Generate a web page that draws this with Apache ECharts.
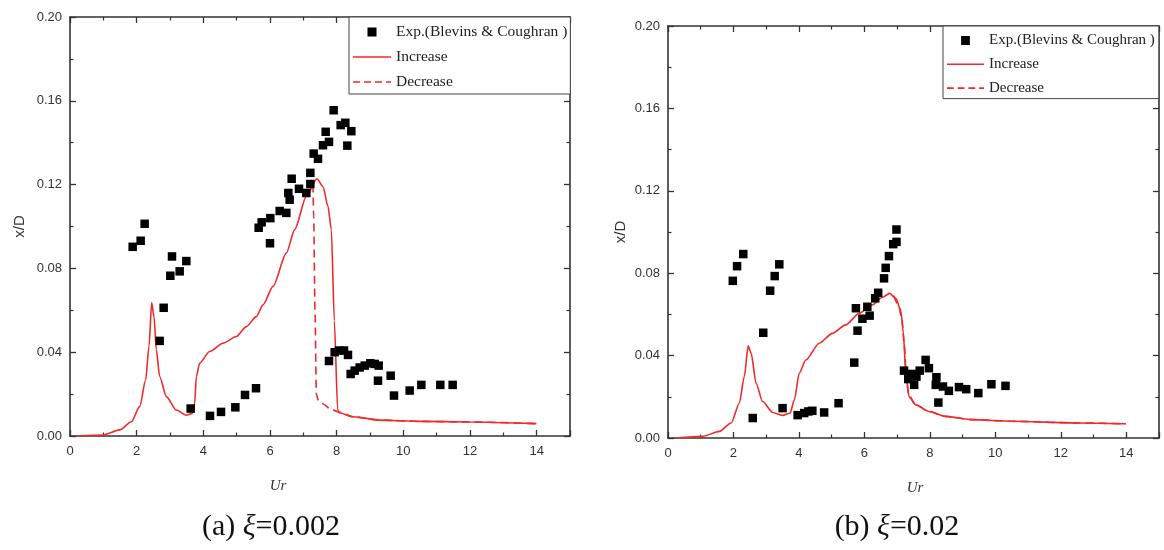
<!DOCTYPE html>
<html><head><meta charset="utf-8">
<script src="https://cdn.jsdelivr.net/npm/echarts@6/dist/echarts.min.js"></script>
<style>html,body{margin:0;padding:0;background:#fff}#c{width:1164px;height:550px}</style>
</head><body><div id="c"></div>
<script>
// ---------- tick labels ----------
const xTickLabels = ['0', '2', '4', '6', '8', '10', '12', '14'];
const yTickLabels = ['0.00', '0.04', '0.08', '0.12', '0.16', '0.20'];
const legendNames = ['Exp.(Blevins & Coughran )', 'Increase', 'Decrease'];

// ---------- (a) xi = 0.002 ----------
const expAx = [1.88, 2.12, 2.24, 2.69, 2.81, 3.01, 3.06, 3.29, 3.49, 3.62, 4.20, 4.53, 4.96, 5.25, 5.58, 5.66, 5.75, 6.00, 6.01, 6.29, 6.49, 6.55, 6.59, 6.65, 6.87, 7.09, 7.21, 7.21, 7.31, 7.44, 7.59, 7.67, 7.77, 7.91, 8.12, 8.26, 8.32, 8.44, 7.77, 7.94, 8.07, 8.22, 8.34, 8.42, 8.54, 8.69, 8.84, 9.01, 9.14, 9.26, 9.24, 9.62, 9.72, 10.19, 10.54, 11.11, 11.48];
const expAy = [0.0903, 0.0932, 0.1013, 0.0454, 0.0612, 0.0765, 0.0857, 0.0786, 0.0835, 0.0131, 0.0096, 0.0115, 0.0137, 0.0196, 0.0228, 0.0994, 0.1020, 0.0920, 0.1040, 0.1074, 0.1065, 0.1160, 0.1128, 0.1228, 0.1180, 0.1160, 0.1256, 0.1203, 0.1348, 0.1323, 0.1388, 0.1452, 0.1404, 0.1555, 0.1484, 0.1495, 0.1386, 0.1455, 0.0358, 0.0400, 0.0408, 0.0408, 0.0387, 0.0296, 0.0312, 0.0327, 0.0336, 0.0347, 0.0344, 0.0336, 0.0264, 0.0288, 0.0193, 0.0217, 0.0244, 0.0244, 0.0244];
const incAx = [0.20, 0.99, 1.49, 1.84, 2.09, 2.27, 2.37, 2.45, 2.52, 2.59, 2.69, 2.89, 3.19, 3.49, 3.67, 3.74, 3.79, 3.89, 4.19, 4.59, 4.99, 5.29, 5.59, 5.79, 6.09, 6.49, 6.74, 7.09, 7.41, 7.59, 7.74, 7.84, 7.93, 8.03, 8.07, 8.49, 9.29, 10.49, 11.99, 13.99];
const incAy = [0.0000, 0.0005, 0.0029, 0.0068, 0.0140, 0.0268, 0.0427, 0.0637, 0.0570, 0.0411, 0.0284, 0.0188, 0.0124, 0.0099, 0.0108, 0.0156, 0.0284, 0.0348, 0.0403, 0.0443, 0.0475, 0.0522, 0.0570, 0.0626, 0.0714, 0.0873, 0.0985, 0.1144, 0.1228, 0.1190, 0.1096, 0.0985, 0.0550, 0.0125, 0.0111, 0.0092, 0.0076, 0.0070, 0.0067, 0.0059];
const decAx = [7.29, 7.31, 7.35, 7.39, 7.45, 7.60, 7.80, 8.04, 8.49, 9.29, 10.49, 11.99, 13.99];
const decAy = [0.1200, 0.1050, 0.0600, 0.0200, 0.0170, 0.0153, 0.0130, 0.0116, 0.0092, 0.0076, 0.0070, 0.0067, 0.0059];

// ---------- (b) xi = 0.02 ----------
const expBx = [1.98, 2.11, 2.30, 2.59, 2.91, 3.12, 3.26, 3.40, 3.50, 3.96, 4.16, 4.29, 4.41, 4.77, 5.21, 5.69, 5.79, 5.74, 5.94, 6.09, 6.16, 6.33, 6.42, 6.60, 6.65, 6.75, 6.88, 6.98, 6.98, 7.21, 7.34, 7.46, 7.52, 7.59, 7.69, 7.87, 7.97, 8.20, 8.18, 8.26, 8.40, 8.58, 8.89, 9.11, 9.48, 9.88, 10.31];
const expBy = [0.0763, 0.0834, 0.0893, 0.0097, 0.0511, 0.0715, 0.0786, 0.0843, 0.0145, 0.0111, 0.0121, 0.0129, 0.0132, 0.0124, 0.0169, 0.0366, 0.0521, 0.0630, 0.0579, 0.0637, 0.0594, 0.0678, 0.0705, 0.0775, 0.0826, 0.0883, 0.0941, 0.0952, 0.1012, 0.0327, 0.0286, 0.0311, 0.0258, 0.0298, 0.0327, 0.0379, 0.0339, 0.0295, 0.0258, 0.0172, 0.0250, 0.0229, 0.0247, 0.0237, 0.0218, 0.0261, 0.0253];
const incBx = [0.25, 1.06, 1.57, 1.93, 2.18, 2.33, 2.45, 2.54, 2.69, 2.89, 3.20, 3.50, 3.73, 3.86, 4.01, 4.21, 4.62, 5.02, 5.43, 5.84, 6.24, 6.55, 6.77, 6.96, 7.11, 7.19, 7.26, 7.36, 7.57, 7.97, 8.48, 9.29, 10.51, 12.55, 13.99];
const incBy = [0.0000, 0.0008, 0.0032, 0.0073, 0.0169, 0.0298, 0.0447, 0.0412, 0.0266, 0.0177, 0.0124, 0.0110, 0.0121, 0.0185, 0.0315, 0.0379, 0.0460, 0.0508, 0.0549, 0.0605, 0.0646, 0.0683, 0.0702, 0.0678, 0.0621, 0.0508, 0.0331, 0.0201, 0.0161, 0.0129, 0.0105, 0.0089, 0.0081, 0.0073, 0.0069];
const decBx = [6.90, 7.05, 7.15, 7.22, 7.27, 7.35, 7.57, 7.97, 8.48, 9.29, 10.51, 12.55, 13.99];
const decBy = [0.0690, 0.0640, 0.0570, 0.0450, 0.0320, 0.0210, 0.0161, 0.0129, 0.0105, 0.0089, 0.0081, 0.0073, 0.0069];

const pairs = (xs, ys) => xs.map((x, i) => [x, ys[i]]);
const RED = '#ee2a2a';
const AX = '#333';
const squareIcon = 'path://M0,5L0.01,5M14.5,0.5H23.5V9.5H14.5ZM37.99,5L38,5';
const solidIcon = 'path://M0,4.2H38V5.8H0Z';
const dashIcon = 'path://M0,4.2H7V5.8H0ZM11,4.2H18V5.8H11ZM22,4.2H29V5.8H22ZM33,4.2H38V5.8H33Z';

function xAxes(g) {
  const base = {
    type: 'value', gridIndex: g, min: 0, max: 15, interval: 2,
    splitLine: { show: false },
    axisLine: { onZero: false, lineStyle: { color: AX, width: 1.6 } },
    axisTick: { inside: true, length: 6, lineStyle: { color: AX, width: 1.3 } },
    minorTick: { show: true, splitNumber: 2, length: 3.5, lineStyle: { color: AX, width: 1.2 } },
  };
  return [
    Object.assign({}, base, {
      position: 'bottom',
      axisLabel: {
        margin: 9, fontSize: 13, color: AX, fontFamily: 'Liberation Sans',
        formatter: v => { const s = String(Math.round(v)); return (Math.abs(v - Math.round(v)) < 1e-6 && xTickLabels.includes(s)) ? s : ''; }
      }
    }),
    Object.assign({}, base, { position: 'top', axisLabel: { show: false } })
  ];
}
function yAxes(g, gap) {
  const base = {
    type: 'value', gridIndex: g, min: 0, max: 0.2, interval: 0.04,
    splitLine: { show: false },
    axisLine: { onZero: false, lineStyle: { color: AX, width: 1.6 } },
    axisTick: { inside: true, length: 6, lineStyle: { color: AX, width: 1.3 } },
    minorTick: { show: true, splitNumber: 2, length: 3.5, lineStyle: { color: AX, width: 1.2 } },
  };
  return [
    Object.assign({}, base, {
      position: 'left',
      name: 'x/D', nameLocation: 'middle', nameGap: gap, nameRotate: 90,
      nameTextStyle: { fontSize: 15, fontFamily: 'Liberation Sans', color: AX },
      axisLabel: {
        margin: 8, fontSize: 13, color: AX, fontFamily: 'Liberation Sans',
        formatter: v => { const s = v.toFixed(2); return yTickLabels.includes(s) ? s : ''; }
      }
    }),
    Object.assign({}, base, { position: 'right', axisLabel: { show: false } })
  ];
}

function seriesFor(xi, yi, exp, inc, dec) {
  return [
    { name: legendNames[0], type: 'scatter', xAxisIndex: xi, yAxisIndex: yi, data: exp,
      symbol: 'rect', symbolSize: 8.5, itemStyle: { color: '#000', opacity: 1 }, z: 5, silent: true },
    { name: legendNames[1], type: 'line', xAxisIndex: xi, yAxisIndex: yi, data: inc,
      showSymbol: false, symbol: 'none', smooth: 0.25, smoothMonotone: 'x',
      lineStyle: { color: RED, width: 1.6, type: 'solid' }, itemStyle: { color: RED }, z: 3, silent: true },
    { name: legendNames[2], type: 'line', xAxisIndex: xi, yAxisIndex: yi, data: dec,
      showSymbol: false, symbol: 'none', smooth: 0.25, smoothMonotone: 'x',
      lineStyle: { color: RED, width: 1.6, type: [8, 5] }, itemStyle: { color: RED }, z: 2, silent: true }
  ];
}

function legendFor(left, top, w, fs, gap, pad) {
  return {
    orient: 'vertical', left: left, top: top, itemWidth: w, itemHeight: 10, itemGap: gap,
    padding: pad, borderColor: '#444', borderWidth: 1, borderRadius: 0, backgroundColor: '#fff',
    selectedMode: false, z: 10,
    textStyle: { fontFamily: 'Liberation Serif', fontSize: fs, color: '#222' },
    data: [
      { name: legendNames[0], icon: squareIcon, itemStyle: { color: '#000', opacity: 1 } },
      { name: legendNames[1], icon: solidIcon, itemStyle: { color: RED } },
      { name: legendNames[2], icon: dashIcon, itemStyle: { color: RED } }
    ]
  };
}

const chart = echarts.init(document.getElementById('c'), null, { renderer: 'canvas' });
chart.setOption({
  backgroundColor: '#fff',
  animation: false,
  grid: [
    { left: 70, top: 17, width: 500, height: 419 },
    { left: 668, top: 26, width: 491, height: 412 }
  ],
  xAxis: [...xAxes(0), ...xAxes(1)],
  yAxis: [...yAxes(0, 43), ...yAxes(1, 40)],
  legend: [
    legendFor(349, 17, 38, 15.5, 9, [7, 3, 4, 4]),
    legendFor(943, 26, 37, 15, 8.8, [7, 4, 3, 4])
  ],
  series: [
    ...seriesFor(0, 0, pairs(expAx, expAy), pairs(incAx, incAy), pairs(decAx, decAy)),
    ...seriesFor(2, 2, pairs(expBx, expBy), pairs(incBx, incBy), pairs(decBx, decBy))
  ],
  graphic: [
    { type: 'text', x: 278, y: 486, style: { text: 'Ur', fontFamily: 'Liberation Serif', fontStyle: 'italic', fontSize: 15, fill: '#333', align: 'center', verticalAlign: 'middle' } },
    { type: 'text', x: 915, y: 488, style: { text: 'Ur', fontFamily: 'Liberation Serif', fontStyle: 'italic', fontSize: 15, fill: '#333', align: 'center', verticalAlign: 'middle' } },
    { type: 'text', x: 271, y: 527, style: { text: '(a) {i|ξ}=0.002', fontFamily: 'Liberation Serif', fontSize: 30, fill: '#111', align: 'center', verticalAlign: 'middle',
        rich: { i: { fontFamily: 'Liberation Serif', fontStyle: 'italic', fontSize: 30, fill: '#111' } } } },
    { type: 'text', x: 897, y: 527, style: { text: '(b) {i|ξ}=0.02', fontFamily: 'Liberation Serif', fontSize: 30, fill: '#111', align: 'center', verticalAlign: 'middle',
        rich: { i: { fontFamily: 'Liberation Serif', fontStyle: 'italic', fontSize: 30, fill: '#111' } } } }
  ]
});
</script>
</body></html>
